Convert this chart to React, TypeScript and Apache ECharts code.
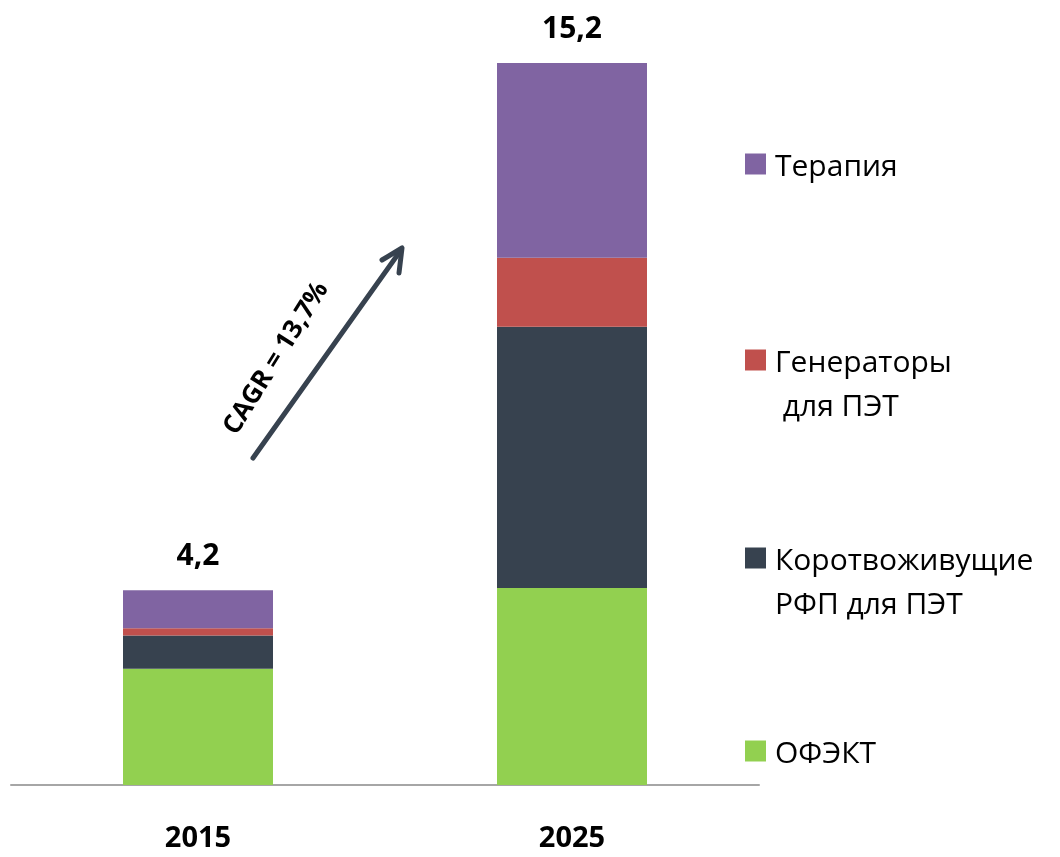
import React, { useEffect, useRef } from "react";
import * as echarts from "echarts";

const years = ["2015", "2025"];
const ofekt = [2.45, 4.15];
const korot = [0.7, 5.5];
const gener = [0.15, 1.45];
const terap = [0.8, 4.1];
const totals = ["4,2", "15,2"];

const names = {
  terap: "Терапия",
  gener: "Генераторы для ПЭТ",
  korot: "Коротвоживущие РФП для ПЭТ",
  ofekt: "ОФЭКТ",
};

const colors = {
  terap: "#8064A2",
  gener: "#C0504D",
  korot: "#37424F",
  ofekt: "#92D050",
};

const FONT = "'Open Sans', 'Noto Sans', sans-serif";
const LH = 44;

export default function App() {
  const ref = useRef<HTMLDivElement>(null);
  useEffect(() => {
    if (!ref.current) return;
    const chart = echarts.init(ref.current, undefined, { renderer: "svg" });
    const legendBase = (name: string, top: number, label: string) => ({
      data: [name],
      left: 745,
      top,
      padding: 0,
      itemWidth: 21,
      itemHeight: 21,
      icon: "rect",
      selectedMode: false,
      formatter: () => label,
      textStyle: {
        fontFamily: FONT,
        fontSize: 30,
        color: "#000",
        lineHeight: LH,
        padding: [0, 0, 0, 4],
      },
    });
    const mk = (key: keyof typeof names, data: number[], extra: any = {}) => ({
      name: names[key],
      type: "bar",
      stack: "total",
      barWidth: 150,
      data,
      itemStyle: { color: colors[key] },
      ...extra,
    });
    chart.setOption({
      animation: false,
      grid: { left: 11, right: 301, top: 25, bottom: 72, outerBoundsMode: "none", containLabel: false },
      xAxis: {
        type: "category",
        data: years,
        axisTick: { show: false },
        axisLine: { lineStyle: { color: "#A6A6A6", width: 2 } },
        axisLabel: {
          margin: 36,
          fontFamily: FONT,
          fontSize: 29,
          fontWeight: "bold",
          color: "#000",
          lineHeight: 29,
        },
      },
      yAxis: { type: "value", min: 0, max: 16, show: false, splitLine: { show: false } },
      legend: [
        legendBase(names.terap, 142, "Терапия"),
        legendBase(names.gener, 294, " \nГенераторы\n для ПЭТ"),
        legendBase(names.korot, 492, " \nКоротвоживущие\nРФП для ПЭТ"),
        legendBase(names.ofekt, 729, "ОФЭКТ"),
      ],
      series: [
        mk("ofekt", ofekt),
        mk("korot", korot),
        mk("gener", gener),
        mk("terap", terap, {
          label: {
            show: true,
            position: "top",
            distance: 22,
            formatter: (p: any) => totals[p.dataIndex],
            fontFamily: FONT,
            fontSize: 30,
            fontWeight: "bold",
            color: "#000",
            lineHeight: 30,
          },
        }),
      ],
      graphic: [
        {
          type: "line",
          shape: { x1: 253, y1: 458, x2: 401, y2: 250 },
          style: { stroke: "#37424F", lineWidth: 5, lineCap: "round" },
        },
        {
          type: "polyline",
          shape: { points: [[382, 260], [402, 248], [399, 273]] },
          style: { stroke: "#37424F", lineWidth: 5, lineCap: "round", lineJoin: "round", fill: null },
        },
        {
          type: "text",
          x: 274,
          y: 357,
          rotation: (58 * Math.PI) / 180,
          style: {
            text: "CAGR = 13,7%",
            fontFamily: FONT,
            fontSize: 26,
            fontWeight: "bold",
            fill: "#000",
            align: "center",
            verticalAlign: "middle",
          },
        },
      ],
    });
    return () => chart.dispose();
  }, []);
  return (
    <div
      ref={ref}
      style={{ position: "fixed", left: 0, top: 0, width: 1060, height: 857 }}
    />
  );
}
